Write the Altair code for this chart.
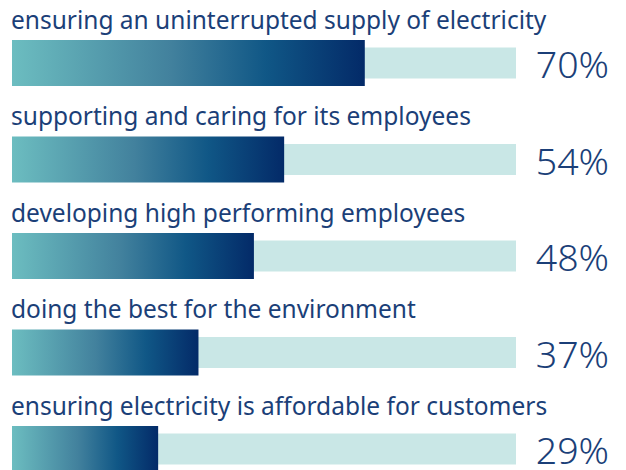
import altair as alt
import pandas as pd

labels = [
    "ensuring an uninterrupted supply of electricity",
    "supporting and caring for its employees",
    "developing high performing employees",
    "doing the best for the environment",
    "ensuring electricity is affordable for customers",
]
values = [70, 54, 48, 37, 29]
totals = [100, 100, 100, 100, 100]

df = pd.DataFrame({
    "label": labels,
    "value": values,
    "total": totals,
    "pct": [f"{v}%" for v in values],
})

TEXT = "#1b3f78"
grad = alt.Gradient(
    gradient="linear",
    x1=0, x2=1, y1=0, y2=0,
    stops=[
        alt.GradientStop(color="#6cbdc0", offset=0),
        alt.GradientStop(color="#42819d", offset=0.45),
        alt.GradientStop(color="#105786", offset=0.72),
        alt.GradientStop(color="#032a68", offset=1),
    ],
)

y = alt.Y("label:N", sort=labels, axis=None,
          scale=alt.Scale(paddingInner=0, paddingOuter=0, range=[6.75, 489.25]))
xs = alt.Scale(domain=[0, 100], range=[0, 504])

base = alt.Chart(df)

bg = base.mark_bar(size=31, color="#c9e7e6").encode(
    x=alt.X("total:Q", scale=xs, axis=None), y=y)
fg = base.mark_bar(size=46, color=grad).encode(
    x=alt.X("value:Q", scale=xs, axis=None), y=y)
lab = base.mark_text(align="left", baseline="alphabetic", dy=-34.5, dx=-1,
                     font="Noto Sans", fontSize=24.5, color=TEXT).encode(
    x=alt.value(0), y=y, text="label:N")
pct = base.mark_text(align="right", baseline="alphabetic", dy=15, dx=93,
                     font="Noto Sans", fontSize=37.5, fontWeight=300, color=TEXT).encode(
    x=alt.X("total:Q", scale=xs, axis=None), y=y, text="pct:N")

chart = alt.layer(bg, fg, lab, pct).properties(
    width=504, height=462,
    padding={"left": 4, "top": 0, "right": 102, "bottom": 0},
    autosize=alt.AutoSizeParams(type="none"),
).configure_view(stroke=None)

chart.save("out.html", embed_options={"renderer": "svg", "actions": False})
